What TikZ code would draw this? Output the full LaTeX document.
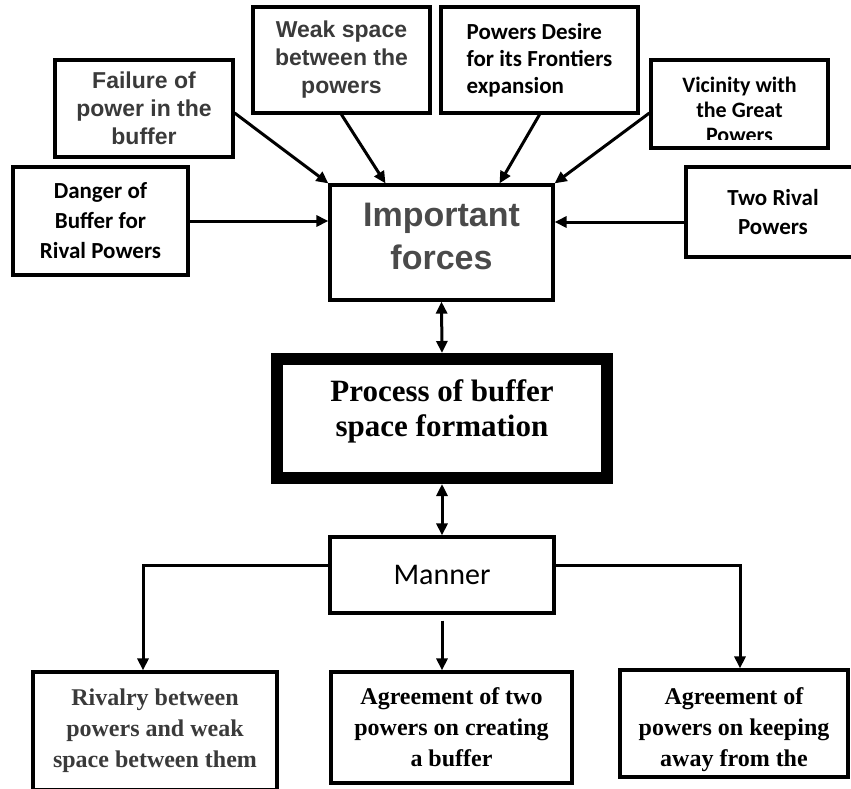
\documentclass[tikz,border=0pt]{standalone}
\usepackage{fontspec}
\setmainfont{Liberation Serif}
\newfontfamily\arialfont{Liberation Sans}
\newfontfamily\califont{Carlito}
\usetikzlibrary{arrows.meta}
\definecolor{txtgray}{HTML}{3A3A3A}
\definecolor{bigray}{HTML}{4A4A4A}
\tikzset{
  plainbox/.style={draw, line width=3.2pt, inner sep=0pt, align=center},
  arialtxt/.style={font=\arialfont\bfseries\fontsize{23}{28}\selectfont, text=txtgray},
  calitxt/.style={font=\califont\bfseries\fontsize{23}{29}\selectfont},
  timestxt/.style={font=\bfseries\fontsize{24}{31}\selectfont, align=center},
  arr/.style={line width=3pt, -{Triangle[length=12pt,width=11pt]}},
  dbl/.style={line width=3pt, {Triangle[length=12pt,width=11pt]}-{Triangle[length=12pt,width=11pt]}}
}

\begin{document}
\begin{tikzpicture}[x=1pt,y=-1pt]
    \useasboundingbox (0,0) rectangle (851,788);
    \node[plainbox, arialtxt, minimum width=178pt, minimum height=97pt] (fail) at (144,108.5) {Failure of\\power in the\\buffer};
    \node[plainbox, arialtxt, minimum width=177pt, minimum height=106pt] (weak) at (341.5,60) {Weak space\\between the\\powers};
    \node[plainbox, calitxt, align=left, font=\califont\bfseries\fontsize{23}{27}\selectfont, minimum width=197pt, minimum height=106pt] (desire) at (539.5,60) {Powers Desire\\for its Frontiers\\expansion};
    \node[plainbox, minimum width=177pt, minimum height=88pt] (vic) at (739.5,104) {};
    \begin{scope}
        \clip (vic.north west) rectangle ([yshift=10pt]vic.south east);
        \node[calitxt, align=center, font=\califont\bfseries\fontsize{22}{25}\selectfont] (victxt) at ([yshift=-6pt]vic.center) {Vicinity with\\the Great\\Powers};
    \end{scope}
    \node[plainbox, calitxt, font=\califont\bfseries\fontsize{23}{30}\selectfont, minimum width=175pt, minimum height=108pt] (danger) at (100.5,221) {Danger of\\Buffer for\\Rival Powers};
    \node[plainbox, calitxt, font=\califont\bfseries\fontsize{23}{29}\selectfont, minimum width=174pt, minimum height=90pt] (rival) at (773,212) {Two Rival\\Powers};
    \node[plainbox, minimum width=223pt, minimum height=115pt] (imp) at (441.5,242.5) {};
    \node[font=\arialfont\bfseries\fontsize{34}{43}\selectfont, text=bigray, align=center] (imptxt) at ([yshift=6pt]imp.center) {Important\\forces};
    \node[plainbox, line width=12pt, minimum width=330pt, minimum height=119pt] (proc) at (442,418.5) {};
    \node[font=\bfseries\fontsize{31}{35}\selectfont, align=center] (proctxt) at ([yshift=7pt]proc.center) {Process of buffer\\space formation};
    \node[plainbox, font=\califont\fontsize{30}{36}\selectfont, minimum width=224pt, minimum height=76pt] (manner) at (442,575) {Manner};
    \node[plainbox, timestxt, text=txtgray, minimum width=244pt, minimum height=118pt] (rivalry) at (155,731) {Rivalry between\\powers and weak\\space between them};
    \node[plainbox, timestxt, minimum width=241pt, minimum height=111pt] (agree2) at (451.5,727.5) {Agreement of two\\powers on creating\\a buffer};
    \node[plainbox, minimum width=228pt, minimum height=107pt] (agree3) at (734,723.5) {};
    \node[timestxt] (agree3txt) at ([yshift=-6pt]agree3.center) {Agreement of\\powers on keeping\\away from the};

    \draw[arr] ([yshift=-4.5pt]fail.east) -- (imp.north west);
    \draw[arr] (weak.south) -- ([xshift=-56pt]imp.north);
    \draw[arr] (desire.south) -- ([xshift=58pt]imp.north);
    \draw[arr] ([yshift=-9pt]vic.west) -- (imp.north east);
    \draw[arr] (danger.east) -- (danger.east -| imp.west);
    \coordinate (rv) at ([yshift=-10pt]rival.west);
    \draw[arr] (rv) -- (rv -| imp.east);
    \draw[dbl] (imp.south) -- (proc.north);
    \draw[dbl] (proc.south) -- (manner.north);
    \draw[arr] ([yshift=10pt]manner.west) -| ([xshift=-12pt]rivalry.north);
    \draw[arr] ([yshift=10pt]manner.east) -| ([xshift=6pt]agree3.north);
    \draw[arr, shorten <=6pt] (manner.south) -- (manner.south |- agree2.north);
\end{tikzpicture}
\end{document}
